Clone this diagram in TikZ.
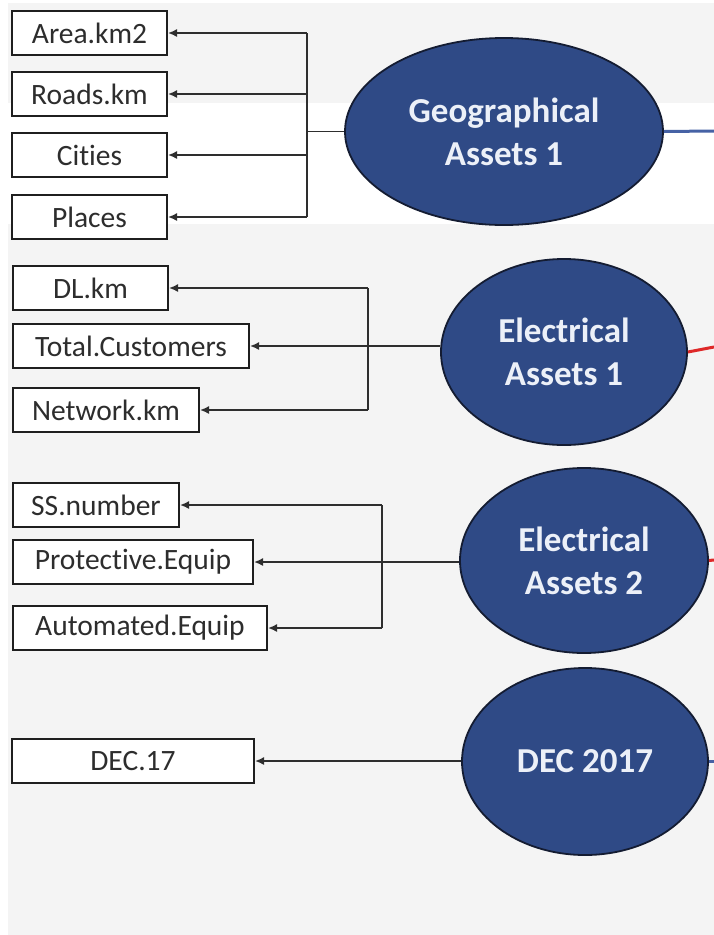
\documentclass[tikz,border=0pt]{standalone}
\usepackage{fontspec}
\setmainfont{Carlito}[Ligatures=NoCommon]
\usetikzlibrary{shapes.geometric,arrows.meta}
\definecolor{bggray}{RGB}{244,244,244}
\definecolor{ellfill}{RGB}{47,74,134}
\definecolor{ellborder}{RGB}{20,28,50}
\definecolor{elltext}{RGB}{236,240,248}
\definecolor{boxtext}{RGB}{45,45,45}
\definecolor{linkblue}{RGB}{70,98,165}
\definecolor{linkred}{RGB}{222,40,40}
\tikzset{
  varbox/.style={draw=black!88, line width=2pt, fill=white, inner sep=0pt,
    anchor=north west, minimum height=44pt, text=boxtext,
    font=\fontsize{29.5}{34}\selectfont},
  asset/.style={ellipse, draw=ellborder, line width=1.8pt, fill=ellfill,
    inner sep=0pt, text=elltext, align=center,
    font=\fontsize{35}{43}\selectfont\bfseries},
  conn/.style={draw=black!82, line width=1.6pt},
  arr/.style={conn, -{Latex[length=9pt,width=8pt]}},
  bluelink/.style={draw=linkblue, line width=3pt},
  redlink/.style={draw=linkred, line width=3pt}
}
\begin{document}
\begin{tikzpicture}[x=1pt,y=-1pt]
\useasboundingbox (0,0) rectangle (714,935);
% background
\fill[white] (0,0) rectangle (714,935);
\fill[bggray] (8,3) rectangle (714,935);
\fill[white] (8,103) rectangle (714,224);

% Geographical group
\node[varbox, minimum width=155pt] (area) at (11,10) {Area.km2};
\node[varbox, minimum width=155pt] (roads) at (11,71) {Roads.km};
\node[varbox, minimum width=155pt] (cities) at (11,132) {Cities};
\node[varbox, minimum width=155pt] (places) at (11,194) {Places};
\node[asset, minimum width=318pt, minimum height=187pt] (geo) at (504,131.5) {Geographical\\Assets 1};
\coordinate (bus1) at (307,0);
\coordinate (edge1) at (714,131);

% Electrical 1 group
\node[varbox, minimum width=155pt] (dl) at (12,265) {DL.km};
\node[varbox, minimum width=236pt] (tc) at (12,323) {Total.Customers};
\node[varbox, minimum width=186pt] (net) at (12,387) {Network.km};
\node[asset, minimum width=246pt, minimum height=186pt] (e1) at (564,352) {Electrical\\Assets 1};
\coordinate (bus2) at (368,0);
\coordinate (edge2) at (714,347);

% Electrical 2 group
\node[varbox, minimum width=166pt] (ss) at (12,482) {SS.number};
\node[varbox, minimum width=240pt] (pe) at (12,539) {Protective.Equip};
\node[varbox, minimum width=254pt] (ae) at (12,605) {Automated.Equip};
\node[asset, minimum width=248pt, minimum height=185pt] (e2) at (584,560.5) {Electrical\\Assets 2};
\coordinate (bus3) at (382,0);
\coordinate (edge3) at (714,560);

% DEC group
\node[varbox, minimum width=242pt] (dec) at (11,738) {DEC.17};
\node[asset, minimum width=246pt, minimum height=187pt] (d17) at (585,761.5) {DEC 2017};
\coordinate (edge4) at (714,761.5);

% connectors: geographical
\draw[conn] (geo.west) -- (bus1 |- geo.west);
\draw[conn] (bus1 |- area.east) -- (bus1 |- places.east);
\draw[arr] (bus1 |- area.east) -- (area.east);
\draw[arr] (bus1 |- roads.east) -- (roads.east);
\draw[arr] (bus1 |- cities.east) -- (cities.east);
\draw[arr] (bus1 |- places.east) -- (places.east);
\draw[bluelink] (geo.east) -- (edge1);

% connectors: electrical 1
\draw[conn] (bus2 |- dl.east) -- (bus2 |- net.east);
\draw[arr] (bus2 |- dl.east) -- (dl.east);
\draw[arr] (bus2 |- net.east) -- (net.east);
\draw[arr] (tc.east -| e1.west) -- (tc.east);
\draw[redlink] (e1.east) -- (edge2);

% connectors: electrical 2
\draw[conn] (bus3 |- ss.east) -- (bus3 |- ae.east);
\draw[arr] (bus3 |- ss.east) -- (ss.east);
\draw[arr] (bus3 |- ae.east) -- (ae.east);
\draw[arr] (pe.east -| e2.west) -- (pe.east);
\draw[redlink] (e2.east) -- (edge3);

% connectors: DEC
\draw[arr] (dec.east -| d17.west) -- (dec.east);
\draw[bluelink] (d17.east) -- (edge4);
\end{tikzpicture}
\end{document}
